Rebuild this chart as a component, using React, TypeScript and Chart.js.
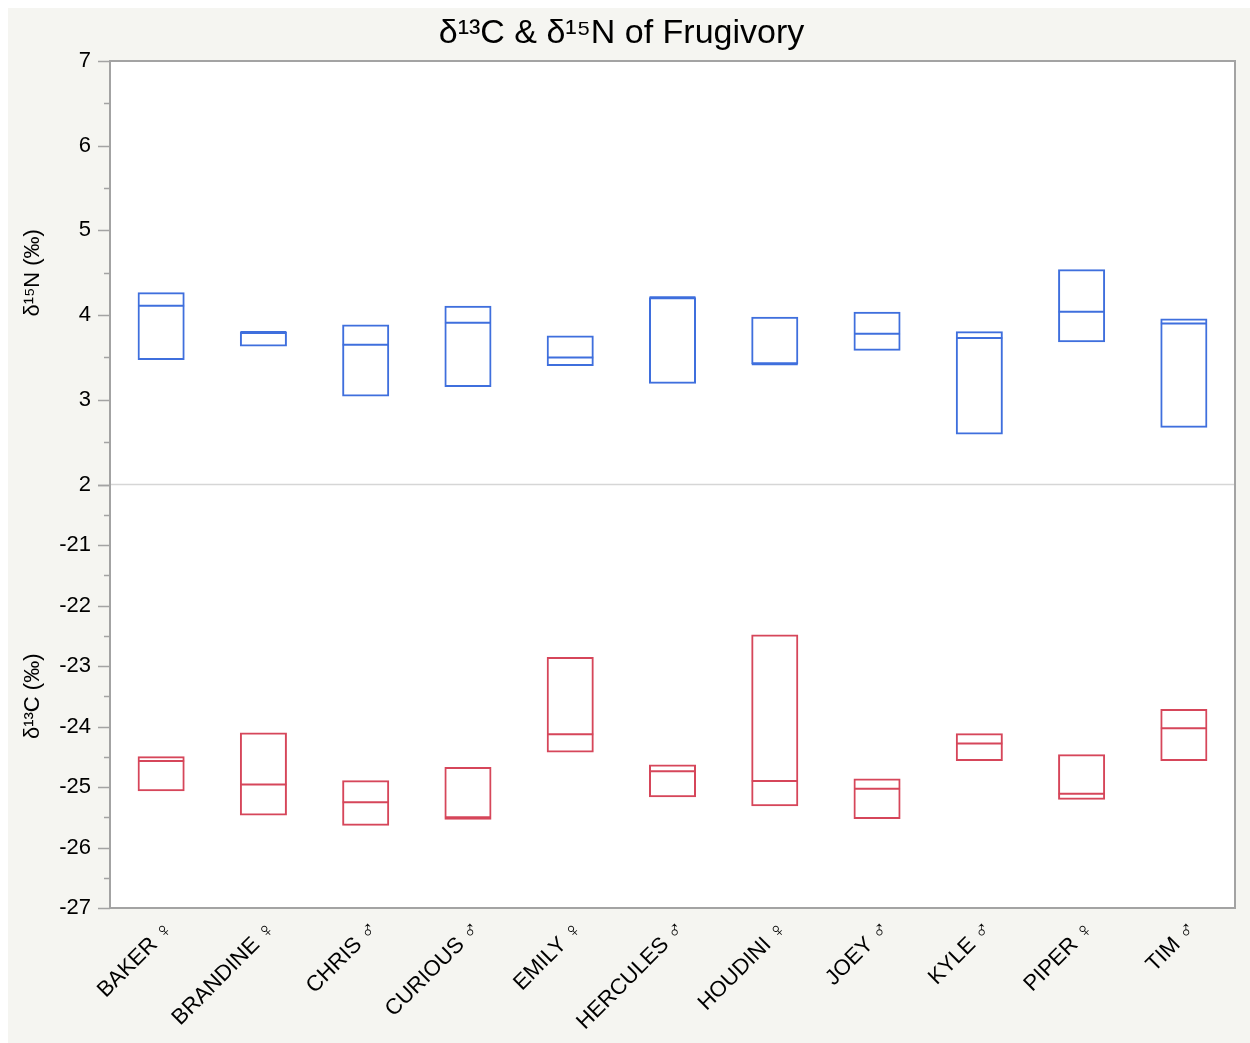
import React, { useEffect, useRef } from 'react';
import { Chart, registerables } from 'chart.js';

Chart.register(...registerables);

const categories = ['BAKER ♀', 'BRANDINE ♀', 'CHRIS ♂', 'CURIOUS ♂', 'EMILY ♀', 'HERCULES ♂', 'HOUDINI ♀', 'JOEY ♂', 'KYLE ♂', 'PIPER ♀', 'TIM ♂'];

const n15Low = [3.47, 3.63, 3.04, 3.15, 3.40, 3.19, 3.42, 3.58, 2.59, 3.68, 2.67];
const n15High = [4.27, 3.80, 3.89, 4.11, 3.76, 4.21, 3.98, 4.04, 3.81, 4.54, 3.96];
const n15Median = [4.11, 3.80, 3.65, 3.91, 3.50, 4.21, 3.42, 3.78, 3.73, 4.04, 3.90];

const c13Low = [-25.07, -25.47, -25.64, -25.54, -24.43, -25.17, -25.32, -25.53, -24.57, -25.21, -24.57];
const c13High = [-24.49, -24.10, -24.89, -24.67, -22.85, -24.63, -22.48, -24.86, -24.11, -24.46, -23.71];
const c13Median = [-24.57, -24.96, -25.25, -25.50, -24.13, -24.74, -24.90, -25.03, -24.28, -25.11, -24.03];

const titleText = 'δ¹³C & δ¹⁵N of Frugivory';
const n15Title = 'δ¹⁵N (‰)';
const c13Title = 'δ¹³C (‰)';

const BLUE = '#3f6fdd';
const RED = '#d6465a';
const AXIS = '#a3a3a3';
const FONT = "'Liberation Sans', 'DejaVu Sans', Arial, sans-serif";

const framePlugin = {
  id: 'frame',
  beforeDraw(chart: any) {
    const { ctx, chartArea } = chart;
    ctx.save();
    ctx.fillStyle = '#ffffff';
    ctx.fillRect(chartArea.left, chartArea.top, chartArea.right - chartArea.left, chartArea.bottom - chartArea.top);
    ctx.restore();
  },
  afterDraw(chart: any) {
    const { ctx, chartArea } = chart;
    const { left, right, top, bottom } = chartArea;
    ctx.save();
    const yN = chart.scales.yN;
    ctx.strokeStyle = '#d6d6d6';
    ctx.lineWidth = 1.5;
    ctx.beginPath();
    ctx.moveTo(left, yN.bottom);
    ctx.lineTo(right, yN.bottom);
    ctx.stroke();
    ctx.strokeStyle = AXIS;
    ctx.lineWidth = 1.5;
    for (const id of ['yN', 'yC']) {
      const sc = chart.scales[id];
      for (const t of sc.ticks) {
        const py = Math.round(sc.getPixelForValue(t.value)) + 0.5;
        const len = Number.isInteger(t.value) ? 12 : 6;
        ctx.beginPath();
        ctx.moveTo(left - len, py);
        ctx.lineTo(left, py);
        ctx.stroke();
      }
    }
    ctx.lineWidth = 2;
    ctx.strokeRect(left, top, right - left, bottom - top);
    ctx.restore();
  },
};

export default function App() {
  const ref = useRef<HTMLCanvasElement | null>(null);

  useEffect(() => {
    if (!ref.current) return;
    const chart = new Chart(ref.current, {
      type: 'bar',
      data: {
        labels: categories,
        datasets: [
          {
            type: 'bar',
            label: 'δ15N range',
            data: n15Low.map((v, i) => [v, n15High[i]]),
            yAxisID: 'yN',
            backgroundColor: 'rgba(0,0,0,0)',
            borderColor: BLUE,
            borderWidth: 2,
            borderSkipped: false,
            grouped: false,
            barPercentage: 0.46,
            categoryPercentage: 1,
          } as any,
          {
            type: 'line',
            label: 'δ15N median',
            data: n15Median,
            yAxisID: 'yN',
            showLine: false,
            pointStyle: 'line',
            pointRadius: 23,
            pointHoverRadius: 23,
            pointBorderWidth: 2,
            borderColor: BLUE,
            pointBorderColor: BLUE,
          } as any,
          {
            type: 'bar',
            label: 'δ13C range',
            data: c13Low.map((v, i) => [v, c13High[i]]),
            yAxisID: 'yC',
            backgroundColor: 'rgba(0,0,0,0)',
            borderColor: RED,
            borderWidth: 2,
            borderSkipped: false,
            grouped: false,
            barPercentage: 0.46,
            categoryPercentage: 1,
          } as any,
          {
            type: 'line',
            label: 'δ13C median',
            data: c13Median,
            yAxisID: 'yC',
            showLine: false,
            pointStyle: 'line',
            pointRadius: 23,
            pointHoverRadius: 23,
            pointBorderWidth: 2,
            borderColor: RED,
            pointBorderColor: RED,
          } as any,
        ],
      },
      options: {
        animation: false,
        responsive: false,
        events: [],
        layout: { autoPadding: false, padding: { left: 0, right: 7, top: 0, bottom: 0 } },
        plugins: {
          legend: { display: false },
          tooltip: { enabled: false },
          title: {
            display: true,
            text: titleText,
            color: '#000',
            font: { family: FONT, size: 34, weight: 'normal' },
            padding: { top: 5.6, bottom: 6.6 },
          },
        },
        scales: {
          x: {
            type: 'category',
            offset: true,
            grid: { display: false },
            border: { display: false },
            ticks: {
              color: '#000',
              font: { family: FONT, size: 22 },
              minRotation: 45,
              maxRotation: 45,
              autoSkip: false,
              padding: 0,
              labelOffset: 9,
            },
            afterFit(scale: any) {
              scale.height = 127;
              scale.paddingLeft = 0;
              scale.paddingRight = 0;
            },
          },
          yC: {
            type: 'linear',
            position: 'left',
            stack: 'panels',
            stackWeight: 1,
            min: -27,
            max: -20,
            grid: { drawOnChartArea: false, tickLength: 12, tickColor: 'rgba(0,0,0,0)' },
            border: { display: false },
            ticks: {
              stepSize: 0.5,
              autoSkip: false,
              color: '#000',
              font: { family: FONT, size: 22 },
              padding: 7,
              callback: (v: any) => (Number.isInteger(v) && v !== -20 ? String(v) : ''),
            },
            title: {
              display: true,
              text: c13Title,
              color: '#000',
              font: { family: FONT, size: 22 },
              padding: { top: 12, bottom: 0 },
            },
            afterFit(scale: any) {
              scale.width = 102;
              scale.paddingTop = 0;
              scale.paddingBottom = 0;
            },
          },
          yN: {
            type: 'linear',
            position: 'left',
            stack: 'panels',
            stackWeight: 1,
            min: 2,
            max: 7,
            grid: { drawOnChartArea: false, tickLength: 12, tickColor: 'rgba(0,0,0,0)' },
            border: { display: false },
            ticks: {
              stepSize: 0.5,
              autoSkip: false,
              color: '#000',
              font: { family: FONT, size: 22 },
              padding: 7,
              callback: (v: any) => (Number.isInteger(v) ? String(v) : ''),
            },
            title: {
              display: true,
              text: n15Title,
              color: '#000',
              font: { family: FONT, size: 22 },
              padding: { top: 12, bottom: 0 },
            },
            afterFit(scale: any) {
              scale.width = 102;
              scale.paddingTop = 0;
              scale.paddingBottom = 0;
            },
          },
        },
      },
      plugins: [framePlugin],
    } as any);
    return () => chart.destroy();
  }, []);

  return (
    <div style={{ position: 'absolute', left: 8, top: 8, width: 1242, height: 1035, background: '#f5f5f1', overflow: 'hidden' }}>
      <canvas ref={ref} width={1234} height={1027} style={{ display: 'block' }} />
    </div>
  );
}
